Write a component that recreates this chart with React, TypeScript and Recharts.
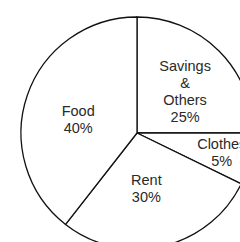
import React from 'react'
import { Pie, PieChart, Cell } from 'recharts'

// slice names and the percentages printed on them
const categories = ['Savings\n&\nOthers', 'Clothes', 'Rent', 'Food']
const percentLabels = ['25%', '5%', '30%', '40%']
// share of the circle each slice takes in the drawing (degrees)
const sliceShare = [90, 26, 102, 142]

const data = categories.map((name, i) => ({ name, value: sliceShare[i], pct: percentLabels[i] }))

// label placement tweaks (radius factor, dx, dy)
const labelPlace: [number, number, number][] = [
  [0.55, 3, 4],
  [0.75, 0, 0],
  [0.55, -5, -7],
  [0.55, 1.5, 7],
]

const RADIAN = Math.PI / 180

const renderLabel = (props: any) => {
  const { cx, cy, midAngle, outerRadius, index } = props
  const [f, dx, dy] = labelPlace[index]
  const r = outerRadius * f
  const x = cx + r * Math.cos(-midAngle * RADIAN) + dx
  const y = cy + r * Math.sin(-midAngle * RADIAN) + dy
  const lines = [...data[index].name.split('\n'), data[index].pct]
  const lh = 17
  return (
    <text
      x={x}
      y={y}
      textAnchor="middle"
      fill="#2a2a2a"
      fontSize={14.5}
      fontFamily="Arial, 'Liberation Sans', sans-serif"
    >
      {lines.map((l, i) => (
        <tspan key={i} x={x} y={y + (i - (lines.length - 1) / 2) * lh} dominantBaseline="central">
          {l}
        </tspan>
      ))}
    </text>
  )
}

const App: React.FC = () => {
  return (
    <div style={{ position: 'absolute', left: 0, top: 0, width: 240, height: 242, background: '#fff' }}>
      <PieChart width={240} height={242}>
        <Pie
          data={data}
          dataKey="value"
          cx={132}
          cy={128}
          outerRadius={116}
          startAngle={90}
          endAngle={-270}
          stroke="#111"
          strokeWidth={1.3}
          label={renderLabel}
          labelLine={false}
          isAnimationActive={false}
        >
          {data.map((d, i) => (
            <Cell key={i} fill="#fff" />
          ))}
        </Pie>
      </PieChart>
    </div>
  )
}

export default App
